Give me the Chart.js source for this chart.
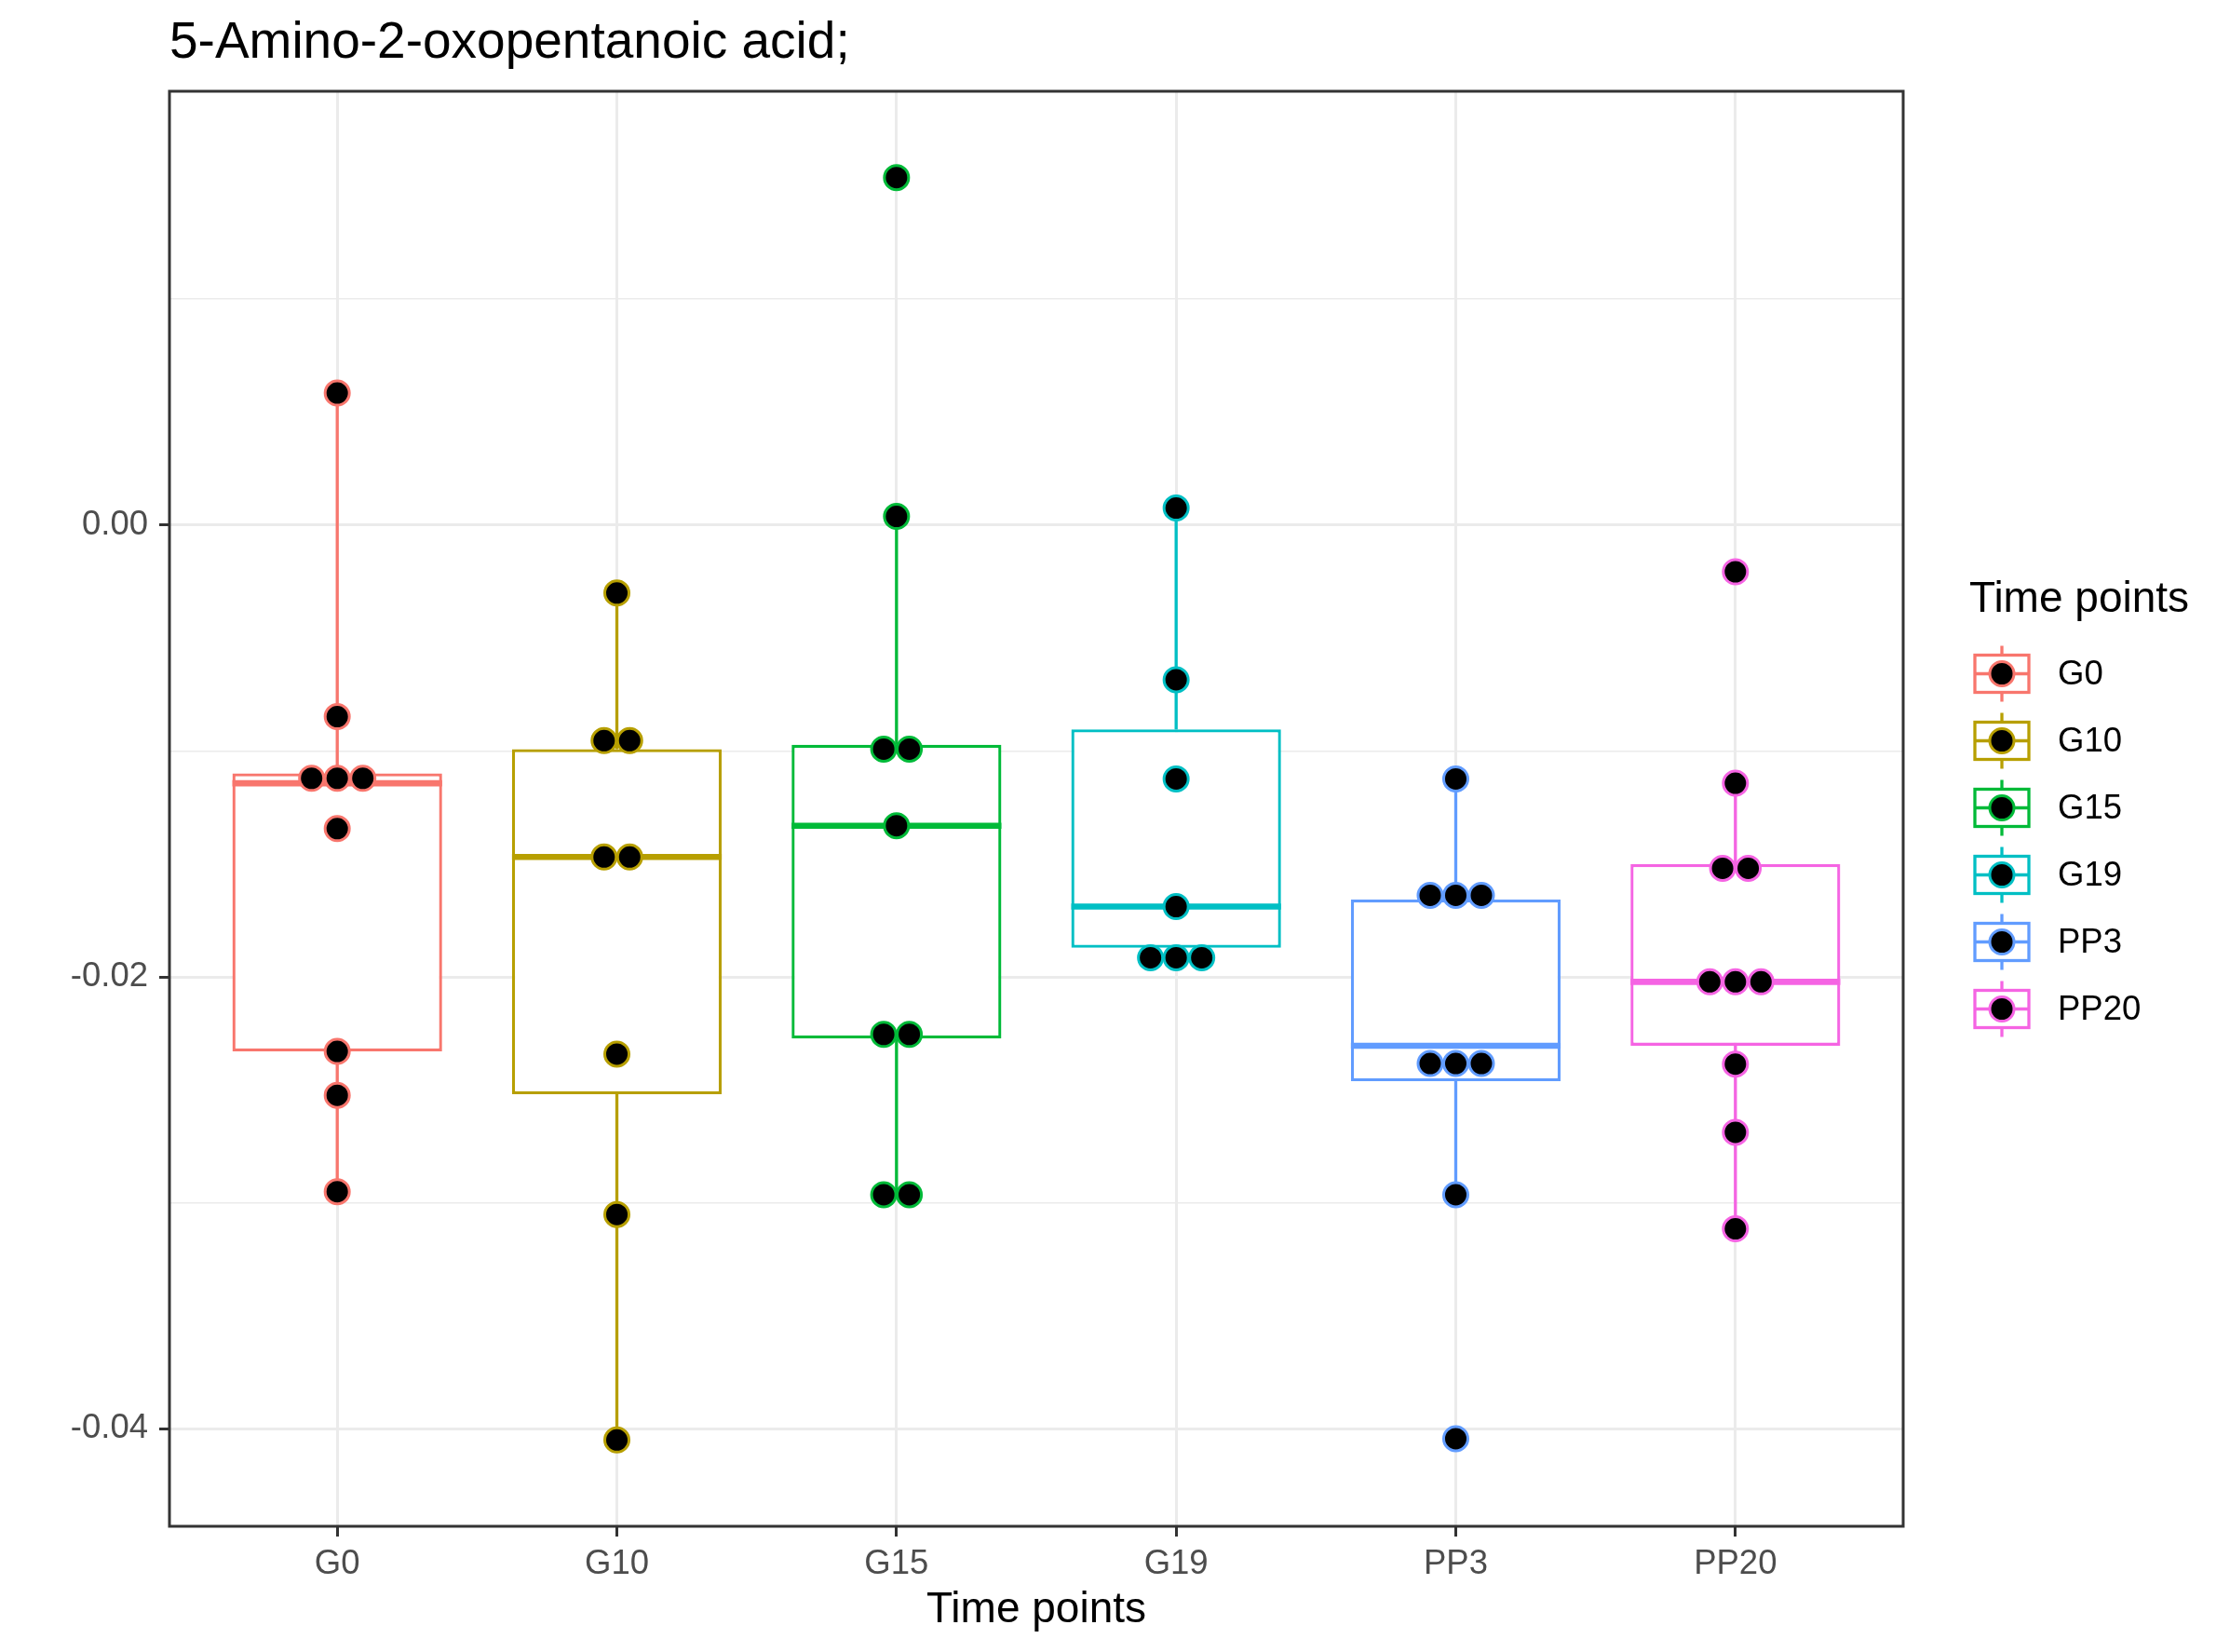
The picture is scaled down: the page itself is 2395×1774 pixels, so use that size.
<!DOCTYPE html>
<html>
<head>
<meta charset="utf-8">
<title>5-Amino-2-oxopentanoic acid</title>
<script src="https://cdn.jsdelivr.net/npm/chart.js@4.4.1/dist/chart.umd.min.js"></script>
<style>
  html, body { margin: 0; padding: 0; background: #ffffff; }
  #wrap { width: 2395px; height: 1774px; }
</style>
</head>
<body>
<div id="wrap"><canvas id="boxChart" width="2395" height="1774"></canvas></div>
<script>
// groups on the x axis
const timePoints = ['G0', 'G10', 'G15', 'G19', 'PP3', 'PP20'];
const groupColors = ['#F8766D', '#B79F00', '#00BA38', '#00BFC4', '#619CFF', '#F564E3'];

// sample values per group
const valuesG0 = [0.00584, -0.00848, -0.01099, -0.01124, -0.01143, -0.01344, -0.02330, -0.02524, -0.02951];
const valuesG10 = [-0.00301, -0.00879, -0.01030, -0.01463, -0.01476, -0.02342, -0.03052, -0.04050];
const valuesG15 = [0.01538, 0.00038, -0.00973, -0.01011, -0.01331, -0.02236, -0.02273, -0.02958, -0.02970];
const valuesG19 = [0.00075, -0.00685, -0.01124, -0.01689, -0.01871, -0.01871, -0.01959];
const valuesPP3 = [-0.01124, -0.01601, -0.01658, -0.01677, -0.02305, -0.02380, -0.02462, -0.02964, -0.04044];
const valuesPP20 = [-0.00207, -0.01143, -0.01482, -0.01557, -0.01984, -0.02060, -0.02060, -0.02386, -0.02688, -0.03115];
const groupValues = [valuesG0, valuesG10, valuesG15, valuesG19, valuesPP3, valuesPP20];

// labelled y ticks
const yMajorTicks = [-0.04, -0.02, 0];
const yTickLabels = ['-0.04', '-0.02', '0.00'];

const FONT = "'Liberation Sans', Arial, Helvetica, sans-serif";
const DOT_STEP = 0.0916;   // horizontal spacing of stacked dots (category units)

// quantile type 7 (R default)
function quantile(sorted, p) {
    const h = (sorted.length - 1) * p;
    const lo = Math.floor(h), hi = Math.ceil(h);
    return sorted[lo] + (h - lo) * (sorted[hi] - sorted[lo]);
}

function boxStats(vals) {
    const s = [...vals].sort((a, b) => a - b);
    const q1 = quantile(s, 0.25), med = quantile(s, 0.5), q3 = quantile(s, 0.75);
    const iqr = q3 - q1;
    const inside = s.filter(v => v >= q1 - 1.5 * iqr && v <= q3 + 1.5 * iqr);
    return { q1, med, q3, lo: inside[0], hi: inside[inside.length - 1] };
}

// dot-density binning like geom_dotplot
const allValues = groupValues.flat();
const dataMin = Math.min(...allValues);
const dataMax = Math.max(...allValues);
const binWidth = (dataMax - dataMin) / 30;

function dotBins(vals) {
    const s = [...vals].sort((a, b) => a - b);
    const bins = [];
    let cur = null, end = -Infinity;
    s.forEach(v => {
        if (v >= end) { cur = []; bins.push(cur); end = v + binWidth; }
        cur.push(v);
    });
    return bins.map(b => ({ center: (b[0] + b[b.length - 1]) / 2, count: b.length }));
}

function dotPoints(vals, idx) {
    const pts = [];
    dotBins(vals).forEach(b => {
        for (let k = 0; k < b.count; k++) {
            pts.push({ x: idx + (k - (b.count - 1) / 2) * DOT_STEP, y: b.center });
        }
    });
    return pts;
}

const lowEdge = dataMin - binWidth / 2;
const highEdge = dataMax + binWidth / 2;
const yMin = lowEdge - (highEdge - lowEdge) * 0.05;
const yMax = highEdge + (highEdge - lowEdge) * 0.05;

const stats = groupValues.map(boxStats);
const isMajor = v => yMajorTicks.some(m => Math.abs(m - v) < 1e-9);

// whiskers + median drawn right after the boxes
const boxWhiskers = {
    id: 'boxWhiskers',
    afterDatasetDraw(chart, args) {
        if (args.index !== 0) return;
        const { ctx, scales: { x, y } } = chart;
        const meta = chart.getDatasetMeta(0);
        ctx.save();
        ctx.lineCap = 'butt';
        stats.forEach((s, i) => {
            const cx = x.getPixelForValue(i);
            const half = meta.data[i].width / 2;
            ctx.strokeStyle = groupColors[i];
            ctx.lineWidth = 3.3;
            ctx.beginPath();
            ctx.moveTo(cx, y.getPixelForValue(s.q3));
            ctx.lineTo(cx, y.getPixelForValue(s.hi));
            ctx.moveTo(cx, y.getPixelForValue(s.q1));
            ctx.lineTo(cx, y.getPixelForValue(s.lo));
            ctx.stroke();
            ctx.lineWidth = 6.6;
            ctx.beginPath();
            ctx.moveTo(cx - half, y.getPixelForValue(s.med));
            ctx.lineTo(cx + half, y.getPixelForValue(s.med));
            ctx.stroke();
        });
        ctx.restore();
    }
};

const panelFrame = {
    id: 'panelFrame',
    afterDatasetsDraw(chart) {
        const { ctx, chartArea: a } = chart;
        ctx.save();
        ctx.strokeStyle = '#333333';
        ctx.lineWidth = 3;
        ctx.strokeRect(a.left, a.top, a.right - a.left, a.bottom - a.top);
        ctx.restore();
    }
};

// ggplot-style legend on the right
const sideLegend = {
    id: 'sideLegend',
    afterDraw(chart) {
        const { ctx, chartArea: a } = chart;
        const midY = (a.top + a.bottom) / 2;
        const left = a.right + 71;
        ctx.save();
        ctx.textAlign = 'left';
        ctx.textBaseline = 'middle';
        ctx.fillStyle = '#000000';
        ctx.font = `46px ${FONT}`;
        ctx.fillText('Time points', left, midY - 224);
        ctx.font = `36.5px ${FONT}`;
        timePoints.forEach((name, i) => {
            const cy = midY - 145 + i * 72;
            const cx = left + 35;
            ctx.strokeStyle = groupColors[i];
            ctx.lineWidth = 3.3;
            ctx.beginPath();
            ctx.moveTo(cx, cy - 30); ctx.lineTo(cx, cy - 20);
            ctx.moveTo(cx, cy + 20); ctx.lineTo(cx, cy + 30);
            ctx.moveTo(cx - 29, cy); ctx.lineTo(cx + 29, cy);
            ctx.stroke();
            ctx.strokeRect(cx - 29, cy - 20, 58, 40);
            ctx.beginPath();
            ctx.arc(cx, cy, 13, 0, Math.PI * 2);
            ctx.fillStyle = '#000000';
            ctx.fill();
            ctx.lineWidth = 3;
            ctx.stroke();
            ctx.fillStyle = '#000000';
            ctx.fillText(name, left + 95, cy + 1);
        });
        ctx.restore();
    }
};

Chart.defaults.font.family = FONT;

new Chart(document.getElementById('boxChart'), {
    type: 'bar',
    data: {
        datasets: [
            {
                type: 'bar',
                label: 'box',
                data: stats.map((s, i) => ({ x: i, y: [s.q1, s.q3] })),
                backgroundColor: '#ffffff',
                borderColor: groupColors,
                borderWidth: 3.3,
                borderSkipped: false,
                barPercentage: 0.75,
                categoryPercentage: 1,
                order: 2
            },
            ...timePoints.map((name, i) => ({
                type: 'scatter',
                label: name,
                data: dotPoints(groupValues[i], i),
                pointRadius: 13,
                pointHoverRadius: 13,
                pointBorderWidth: 3,
                pointBackgroundColor: '#000000',
                pointBorderColor: groupColors[i],
                order: 1
            }))
        ]
    },
    options: {
        responsive: false,
        animation: false,
        events: [],
        layout: { padding: { left: 0, right: 351, top: 0, bottom: 0 } },
        plugins: {
            legend: { display: false },
            tooltip: { enabled: false },
            title: {
                display: true,
                text: '5-Amino-2-oxopentanoic acid;',
                align: 'start',
                fullSize: false,
                color: '#000000',
                font: { size: 55, weight: 'normal', lineHeight: 1.2 },
                padding: { top: 14, bottom: 18 }
            }
        },
        scales: {
            x: {
                type: 'linear',
                // discrete axis padded by 0.6 of a category on each side
                min: -0.6,
                max: timePoints.length - 0.4,
                offset: false,
                border: { display: false },
                grid: {
                    offset: false,
                    color: '#EBEBEB',
                    lineWidth: 3,
                    tickColor: '#333333',
                    tickLength: 11,
                    tickWidth: 3
                },
                afterBuildTicks: scale => {
                    scale.ticks = timePoints.map((_, i) => ({ value: i }));
                },
                ticks: {
                    autoSkip: false,
                    maxRotation: 0,
                    padding: 8,
                    color: '#4D4D4D',
                    font: { size: 36.5 },
                    callback: v => timePoints[Math.round(v)]
                },
                title: {
                    display: true,
                    text: 'Time points',
                    color: '#000000',
                    font: { size: 46, lineHeight: 1.2 },
                    padding: { top: 0, bottom: 17 }
                },
                afterFit: scale => { scale.height = 135; }
            },
            y: {
                type: 'linear',
                min: yMin,
                max: yMax,
                border: { display: false },
                grid: {
                    color: '#EBEBEB',
                    lineWidth: ctx => isMajor(ctx.tick.value) ? 3 : 1.5,
                    tickColor: ctx => isMajor(ctx.tick.value) ? '#333333' : 'rgba(0,0,0,0)',
                    tickLength: 11,
                    tickWidth: 3
                },
                ticks: {
                    stepSize: 0.01,
                    includeBounds: false,
                    autoSkip: false,
                    padding: 12,
                    color: '#4D4D4D',
                    font: { size: 36.5 },
                    callback: v => {
                        const k = yMajorTicks.findIndex(m => Math.abs(m - v) < 1e-9);
                        return k >= 0 ? yTickLabels[k] : '';
                    }
                },
                afterFit: scale => { scale.width = 182; }
            }
        }
    },
    plugins: [boxWhiskers, panelFrame, sideLegend]
});
</script>
</body>
</html>
